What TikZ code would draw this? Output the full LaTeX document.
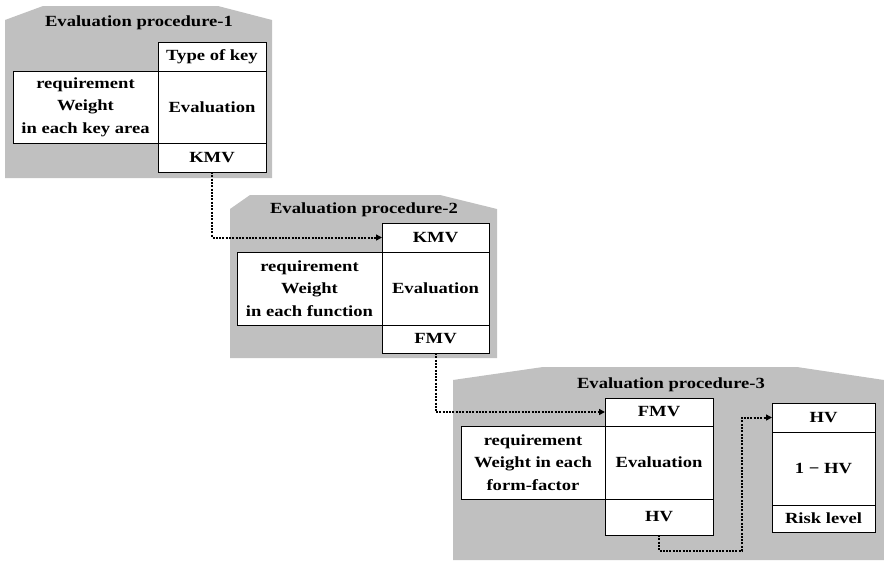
\documentclass[tikz,border=0pt]{standalone}
\usepackage{fontspec}
\setmainfont{Liberation Serif}[FakeStretch=1.2]
\usetikzlibrary{arrows.meta}
\definecolor{panelgray}{RGB}{192,192,192}
\tikzset{
  panel/.style={fill=panelgray, draw=none},
  cell/.style={draw=black, line width=0.8pt, fill=white, inner sep=0pt, outer sep=0pt, align=center,
    font=\fontsize{15.5}{22.5}\selectfont\bfseries},
  title/.style={inner sep=0pt, font=\fontsize{15.5}{22.5}\selectfont\bfseries},
  flow/.style={line width=2pt, dash pattern=on 2pt off 1.3pt, -{Triangle[length=6pt,width=6pt]}},
}
\begin{document}
\begin{tikzpicture}[x=1pt,y=-1pt]
\useasboundingbox (0,0) rectangle (884,560);
% panels
\fill[panel] (5,20) -- (43,6) -- (218,6) -- (272,20) -- (272,178) -- (5,178) -- cycle;
\fill[panel] (230,209) -- (250,195) -- (440,195) -- (497,209) -- (497,358) -- (230,358) -- cycle;
\fill[panel] (453,380) -- (543,367) -- (797,367) -- (884,380) -- (884,560) -- (453,560) -- cycle;
% titles
\node[title] (t1) at (139,23) {Evaluation procedure-1};
\node[title] (t2) at (364,210) {Evaluation procedure-2};
\node[title] (t3) at (671,385) {Evaluation procedure-3};
% procedure 1
\node[cell, minimum width=108pt, minimum height=29pt] (type1) at (212,56.5) {Type of key};
\node[cell, minimum width=108pt, minimum height=72pt] (eval1) at (212,107) {Evaluation};
\node[cell, minimum width=108pt, minimum height=29pt] (kmv1) at (212,157.5) {KMV};
\node[cell, minimum width=145pt, minimum height=72pt] (req1) at (85.5,107) {requirement\\Weight\\in each key area};
% procedure 2
\node[cell, minimum width=107pt, minimum height=29pt] (kmv2) at (435.5,237.5) {KMV};
\node[cell, minimum width=107pt, minimum height=73pt] (eval2) at (435.5,288.5) {Evaluation};
\node[cell, minimum width=107pt, minimum height=28pt] (fmv2) at (435.5,339) {FMV};
\node[cell, minimum width=145pt, minimum height=73pt] (req2) at (309.5,288.5) {requirement\\Weight\\in each function};
% procedure 3
\node[cell, minimum width=108pt, minimum height=28pt] (fmv3) at (659,412) {FMV};
\node[cell, minimum width=108pt, minimum height=73pt] (eval3) at (659,462.5) {Evaluation};
\node[cell, minimum width=108pt, minimum height=36pt] (hv3) at (659,517) {HV};
\node[cell, minimum width=144pt, minimum height=73pt] (req3) at (533,462.5) {requirement\\Weight in each\\form-factor};
\node[cell, minimum width=103pt, minimum height=29pt] (hvr) at (823.5,417.5) {HV};
\node[cell, minimum width=103pt, minimum height=73pt] (onehv) at (823.5,468.5) {1 − HV};
\node[cell, minimum width=103pt, minimum height=27pt] (risk) at (823.5,518.5) {Risk level};
% connectors
\draw[flow] (kmv1.south) |- (kmv2.west);
\draw[flow] (fmv2.south) |- (fmv3.west);
\coordinate (c1) at (742,551);
\draw[flow] (hv3.south) |- (c1) |- (hvr.west);
\end{tikzpicture}
\end{document}
